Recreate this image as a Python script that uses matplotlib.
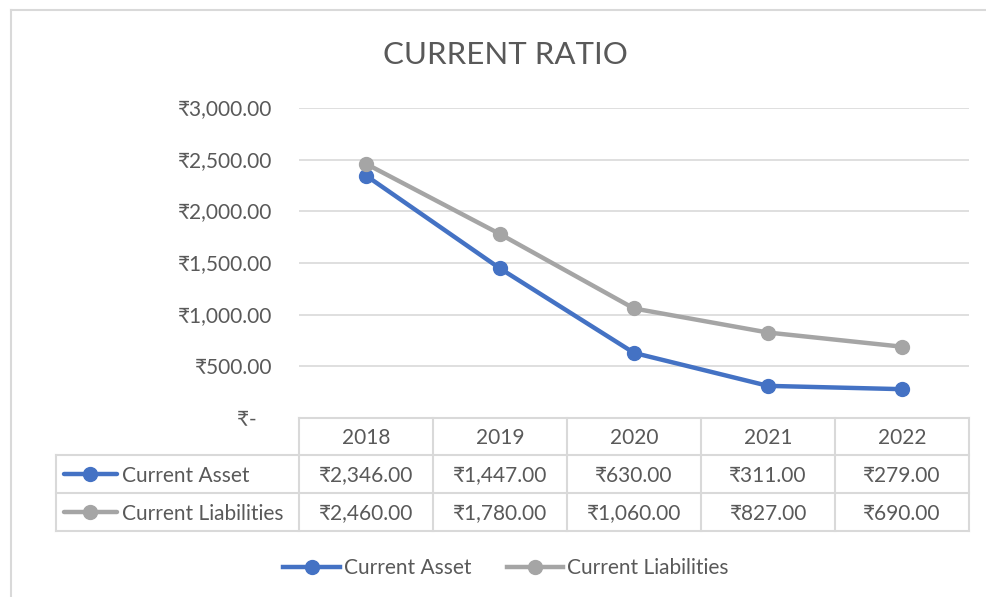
import matplotlib
matplotlib.use("Agg")
import matplotlib.pyplot as plt
import matplotlib.transforms as mtransforms
from matplotlib.lines import Line2D

plt.rcParams['font.family'] = ['Lato', 'Noto Sans', 'DejaVu Sans']

years = ["2018", "2019", "2020", "2021", "2022"]
current_asset = [2346, 1447, 630, 311, 279]
current_liabilities = [2460, 1780, 1060, 827, 690]
series_names = ["Current Asset", "Current Liabilities"]
y_ticks = [0, 500, 1000, 1500, 2000, 2500, 3000]
title = "CURRENT RATIO"

BLUE = "#4472C4"
GRAY = "#A5A5A5"
TXT = "#595959"
GRID = "#D9D9D9"
FS = 15

W, H = 986, 597
fig = plt.figure(figsize=(W / 100, H / 100), dpi=100)

def fx(px):
    return px / W

def fy(py):
    return 1 - py / H

left, right, top, bottom = 299, 969, 108, 418
ax = fig.add_axes([fx(left), fy(bottom), fx(right) - fx(left), fy(top) - fy(bottom)])

x = list(range(len(years)))
series = [current_asset, current_liabilities]
colors = [BLUE, GRAY]
for vals, c, name in zip(series, colors, series_names):
    ax.plot(x, vals, color=c, lw=3.2, marker='o', ms=10, label=name,
            solid_capstyle='round', zorder=3)

ax.set_xlim(-0.5, len(years) - 0.5)
ax.set_ylim(0, 3000)
ax.set_yticks(y_ticks)

def fmt(v):
    if v == 0:
        return "₹-   "
    return "₹{:,.2f}".format(v)

ax.set_yticklabels([fmt(v) for v in y_ticks], color=TXT, fontsize=FS)
ax.tick_params(axis='y', length=0, pad=19)
ax.set_xticks([])
for s in ax.spines.values():
    s.set_visible(False)
ax.grid(axis='y', color=GRID, lw=1.2, zorder=0)
ax.set_axisbelow(True)

fig.text(fx(505), fy(55), title, ha='center', va='center', fontsize=22.5, color=TXT)

# data table
bt = mtransforms.blended_transform_factory(ax.transData, fig.transFigure)
row_y = [418, 455, 493, 531]
tl_kw = dict(color=GRID, lw=1.5, zorder=1)
for i in range(len(years) + 1):
    xv = i - 0.5
    fig.add_artist(Line2D([xv, xv], [fy(row_y[0]), fy(row_y[3])], transform=bt, **tl_kw))
fig.add_artist(Line2D([fx(56), fx(56)], [fy(row_y[1]), fy(row_y[3])], transform=fig.transFigure, **tl_kw))
fig.add_artist(Line2D([fx(left), fx(right)], [fy(row_y[0])] * 2, transform=fig.transFigure, **tl_kw))
for ry in row_y[1:]:
    fig.add_artist(Line2D([fx(56), fx(right)], [fy(ry)] * 2, transform=fig.transFigure, **tl_kw))

dy = 2
for i, yr in enumerate(years):
    fig.text(i, fy((row_y[0] + row_y[1]) / 2 + dy), yr, transform=bt, ha='center', va='center',
             fontsize=FS, color=TXT)
for r, (vals, c, name) in enumerate(zip(series, colors, series_names)):
    cyp = (row_y[r + 1] + row_y[r + 2]) / 2
    cy = fy(cyp + dy)
    for i, v in enumerate(vals):
        fig.text(i, cy, "₹{:,.2f}".format(v), transform=bt, ha='center', va='center',
                 fontsize=FS, color=TXT)
    fig.add_artist(Line2D([fx(64), fx(117)], [fy(cyp), fy(cyp)], transform=fig.transFigure, color=c,
                          lw=3.2, solid_capstyle='round'))
    fig.add_artist(Line2D([fx(90)], [fy(cyp)], transform=fig.transFigure, color=c, marker='o',
                          ms=10, lw=0))
    fig.text(fx(122), cy, name, ha='left', va='center', fontsize=FS, color=TXT)

# bottom legend
handles = [Line2D([0], [0], color=c, lw=3.2, marker='o', ms=10) for c in colors]
fig.legend(handles, series_names, loc='center', bbox_to_anchor=(fx(506), fy(568)), ncol=2,
           frameon=False, fontsize=FS, labelcolor=TXT, handlelength=2.7, handletextpad=0.2,
           columnspacing=1.7)

# chart border (top and left)
fig.add_artist(Line2D([fx(11), fx(11)], [fy(10), 0], transform=fig.transFigure, color=GRID, lw=1.5))
fig.add_artist(Line2D([fx(11), 1], [fy(10), fy(10)], transform=fig.transFigure, color=GRID, lw=1.5))

fig.savefig("out.png", dpi=100, facecolor="white")
